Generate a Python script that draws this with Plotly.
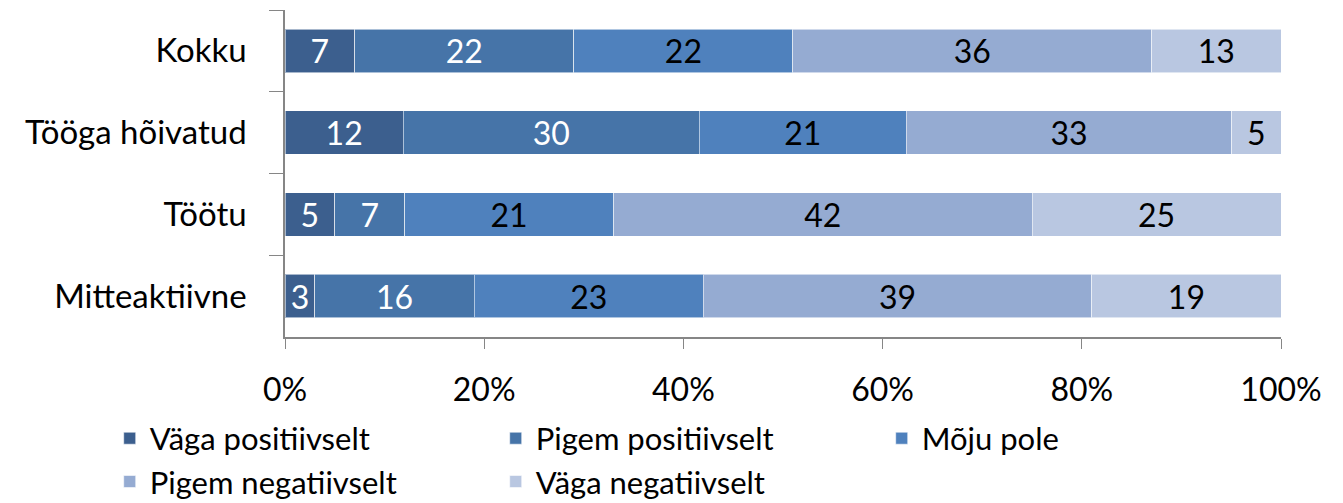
import plotly.graph_objects as go

categories = ["Kokku", "Tööga hõivatud", "Töötu", "Mitteaktiivne"]
series_names = [
    "Väga positiivselt",
    "Pigem positiivselt",
    "Mõju pole",
    "Pigem negatiivselt",
    "Väga negatiivselt",
]
vaga_positiivselt = [7, 12, 5, 3]
pigem_positiivselt = [22, 30, 7, 16]
moju_pole = [22, 21, 21, 23]
pigem_negatiivselt = [36, 33, 42, 39]
vaga_negatiivselt = [13, 5, 25, 19]

tick_values = [0, 20, 40, 60, 80, 100]
tick_labels = ["0%", "20%", "40%", "60%", "80%", "100%"]

series_values = [
    vaga_positiivselt,
    pigem_positiivselt,
    moju_pole,
    pigem_negatiivselt,
    vaga_negatiivselt,
]
colours = ["#3c5f8e", "#4674a8", "#4f81bd", "#95abd2", "#b9c7e1"]
text_colours = ["white", "white", "black", "black", "black"]

FONT = "Lato, 'Open Sans', sans-serif"

fig = go.Figure()
for name, vals, col, tcol in zip(series_names, series_values, colours, text_colours):
    fig.add_trace(go.Bar(
        y=categories,
        x=vals,
        name=name,
        orientation="h",
        marker=dict(color=col, line=dict(color="rgba(255,255,255,0.55)", width=1)),
        text=[str(v) for v in vals],
        textposition="inside",
        insidetextanchor="middle",
        textangle=0,
        constraintext="none",
        textfont=dict(color=tcol, size=32, family=FONT),
    ))

# page body adds an 8px offset, so left/top margins are 8px smaller
fig.update_layout(
    barmode="stack",
    barnorm="percent",
    bargap=0.47,
    width=1343,
    height=503,
    margin=dict(l=277, r=70, t=2, b=174),
    plot_bgcolor="white",
    paper_bgcolor="white",
    font=dict(family=FONT, size=32, color="black"),
    legend=dict(
        orientation="h",
        traceorder="normal",
        x=-0.176,
        xanchor="left",
        y=-0.228,
        yanchor="top",
        entrywidth=341,
        entrywidthmode="pixels",
        font=dict(size=31),
        itemwidth=30,
    ),
)
fig.update_xaxes(
    range=[0, 100],
    tickvals=tick_values,
    ticktext=tick_labels,
    showgrid=False,
    showline=True,
    linecolor="#868686",
    linewidth=1.5,
    ticks="outside",
    ticklen=10,
    tickcolor="#868686",
    ticklabelstandoff=14,
    zeroline=False,
    automargin=False,
)
fig.update_yaxes(
    autorange="reversed",
    showline=True,
    linecolor="#868686",
    linewidth=1.5,
    ticks="outside",
    ticklen=14,
    tickcolor="#868686",
    tickson="boundaries",
    ticklabelstandoff=30,
    tickfont=dict(size=33),
    showgrid=False,
    automargin=False,
)

fig.write_html("out.html")
